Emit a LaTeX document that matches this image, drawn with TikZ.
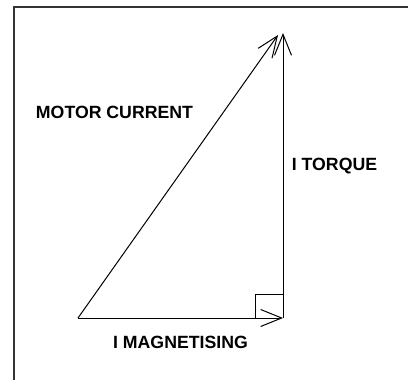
\documentclass[tikz,border=0pt]{standalone}
\usepackage{fontspec}
\setmainfont{Liberation Sans}
\usetikzlibrary{arrows.meta}

\begin{document}
\begin{tikzpicture}[x=1pt,y=-1pt,line width=1pt,
  every node/.style={font=\fontsize{17.7}{20}\selectfont\bfseries},
  >={Straight Barb[length=21pt,width=17pt,line join=miter]}]
\useasboundingbox (0,0) rectangle (408,380);
\clip (0,0) rectangle (408,380);
\draw[line width=1.3pt,black!80] (14,7) rectangle (420,400);
\coordinate (o) at (78,318);
\coordinate (c) at (283,318);
\coordinate (t) at (283,33);
\coordinate (m) at (278,35);
\draw[->] (o)--(c);
\draw[->] (c)--(t);
\draw[->] (o)--(m);
\draw (c)++(0,-24) -| ++(-28,24);
\node (cur) at (114.5,112) {MOTOR CURRENT};
\node (tor) at (334.5,166) {I TORQUE};
\node (mag) at (180.5,342) {I MAGNETISING};
\end{tikzpicture}
\end{document}
